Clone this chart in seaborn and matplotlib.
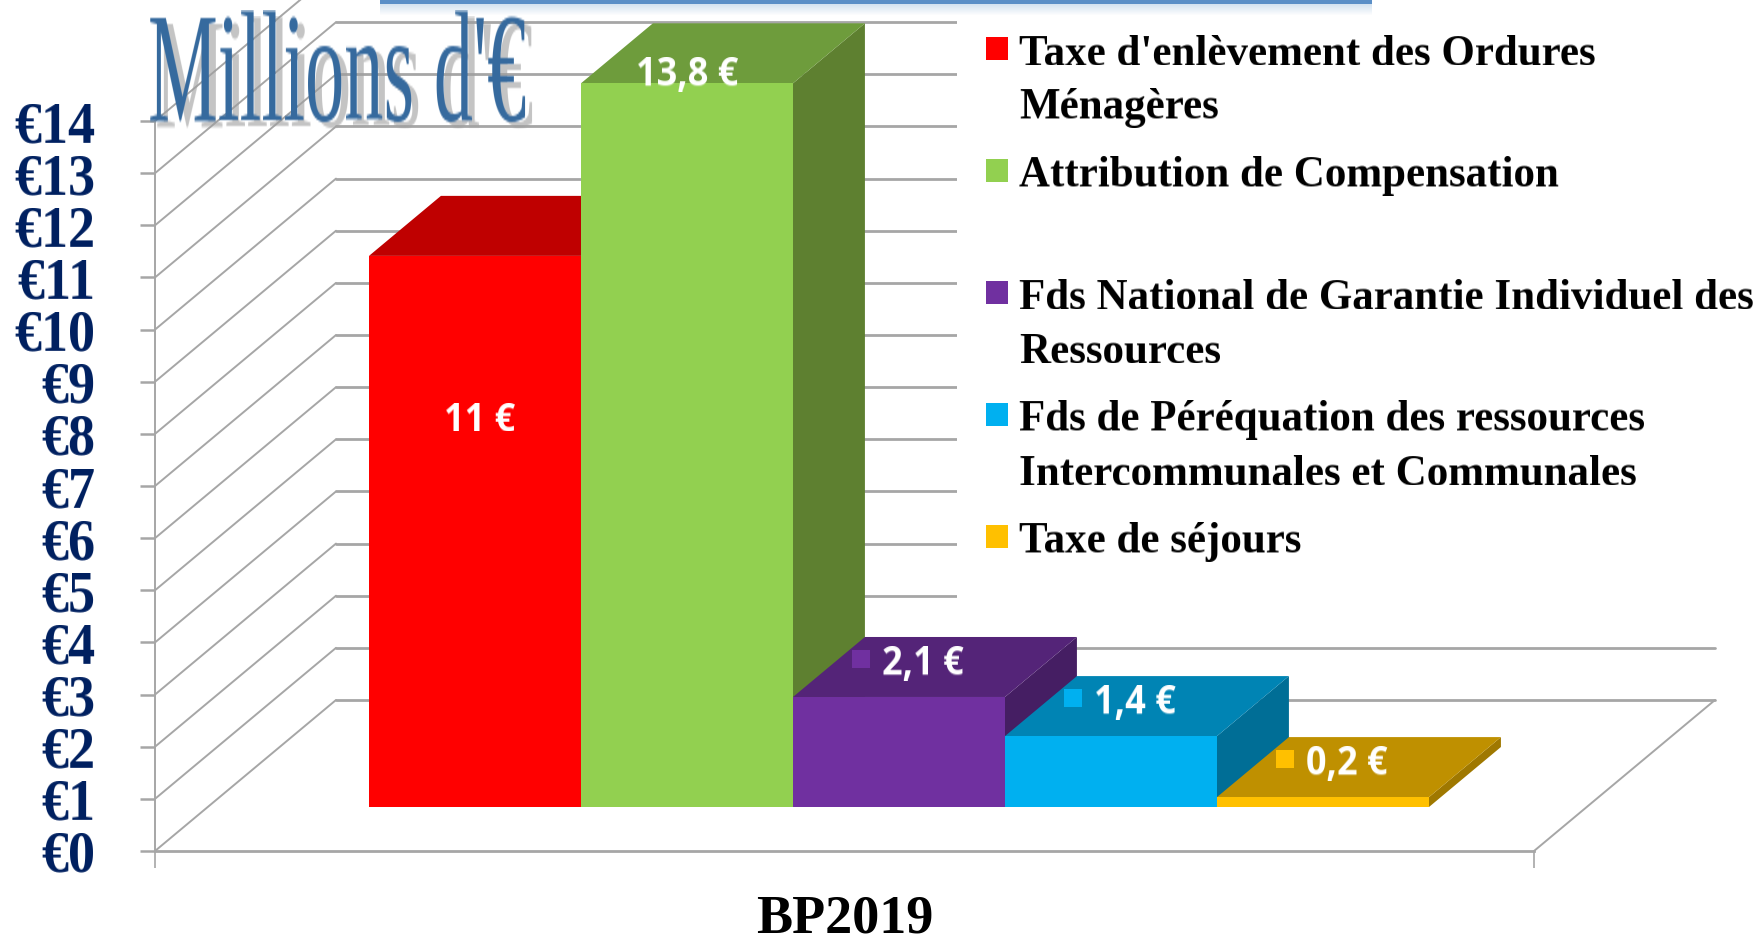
import numpy as np
import pandas as pd
import matplotlib
matplotlib.use("Agg")
import matplotlib.pyplot as plt
import seaborn as sns
from matplotlib.colors import to_rgb
from matplotlib.patches import Rectangle

# postes du budget (millions d'euros)
categories = ["Taxe d'enlèvement des Ordures\nMénagères",
              "Attribution de Compensation\n",
              "Fds National de Garantie Individuel des\nRessources",
              "Fds de Péréquation des ressources\nIntercommunales et Communales",
              "Taxe de séjours"]
values = [10.57, 13.88, 2.11, 1.36, 0.19]
value_labels = ["11 €", "13,8 €", "2,1 €", "1,4 €", "0,2 €"]
euro_ticks = list(range(15))
euro_labels = ["€" + str(t) for t in euro_ticks]
x_label = "BP2019"
title = "Millions d'€"

front_colors = ["#FF0000", "#92D050", "#7030A0", "#00B0F0", "#FFC000"]
top_colors = ["#BF0000", "#6E9C3C", "#542478", "#0084B4", "#BF9000"]
side_colors = ["#8F0000", "#5E8030", "#451E63", "#006E96", "#9F7800"]

W, H = 1762, 942
PX_CAT, PX_EUR = 212, 52.14
X0, Y0 = 475, 807  # pixel of category 0 centre and of the bar base
DEPTH_X, DEPTH_Y = 181 / PX_CAT, 151 / PX_EUR  # whole floor depth, in data units
BAR_DEPTH = 60 / 151
AXIS_LEFT, AXIS_RIGHT = (155 - X0) / PX_CAT, (1534 - X0) / PX_CAT
FLOOR_Y = (Y0 - 851) / PX_EUR
SERIF = "Liberation Serif"


def project(x, y, depth):
    # fake 3d: going back moves right and up
    return x + depth * DEPTH_X, y + depth * DEPTH_Y


def axes_px(x, y):
    return x / W, 1 - y / H


def stretch(factor, color, shadow=None):
    # agg filter which makes a text taller, the font stays the same width
    rgb = np.array(to_rgb(color))

    def apply(img, dpi):
        h, w = img.shape[:2]
        new_h = int(round(h * factor))
        rows = (np.arange(new_h) + 0.5) / factor - 0.5
        low = np.clip(np.floor(rows).astype(int), 0, h - 1)
        high = np.clip(low + 1, 0, h - 1)
        frac = np.clip(rows - low, 0, 1)[:, None]
        alpha = img[low, :, 3] * (1 - frac) + img[high, :, 3] * frac
        sx, sy = 0, 0
        if shadow is not None:
            sx, sy = shadow
        out = np.zeros((new_h + sy, w + sx, 4))
        out[:, :, :3] = rgb
        if shadow is not None:
            back = np.zeros(out.shape[:2])
            back[sy:, sx:] = alpha * 0.6
            front = np.zeros(out.shape[:2])
            front[:new_h, :w] = alpha
            total = front + back * (1 - front)
            grey = np.array([0.62, 0.62, 0.62])
            mix = (front[..., None] * rgb + (back * (1 - front))[..., None] * grey)
            out[:, :, :3] = mix / np.maximum(total, 1e-6)[..., None]
            out[:, :, 3] = total
        else:
            out[:, :, 3] = alpha
        return out, 0, -(new_h - h) // 2 - sy

    return apply


sns.set_style("white")
plt.rcParams["font.family"] = [SERIF, "DejaVu Sans"]

df = pd.DataFrame({"poste": categories, "montant": values})

fig = plt.figure(figsize=(W / 100, H / 100), dpi=100)
ax = fig.add_axes([0, 0, 1, 1])
ax.patch.set_alpha(0)

sns.barplot(data=df, x="poste", y="montant", hue="poste", palette=front_colors,
            width=1, saturation=1, linewidth=0, legend=False, ax=ax, zorder=3)

ax.set_xlim(-X0 / PX_CAT, (W - X0) / PX_CAT)
ax.set_ylim((Y0 - H) / PX_EUR, Y0 / PX_EUR)
ax.set_xlabel("")
ax.set_ylabel("")

# walls and floor
GRID = "#A6A6A6"
for t in euro_ticks:
    x_back, y_back = project(AXIS_LEFT, FLOOR_Y + t, 1)
    x_end, _ = project(AXIS_RIGHT, FLOOR_Y + t, 1)
    ax.plot([AXIS_LEFT, x_back], [FLOOR_Y + t, y_back], color=GRID, lw=1.4, zorder=1)
    ax.plot([x_back, x_end], [y_back, y_back], color=GRID, lw=2.0, zorder=1)
ax.plot(*zip((AXIS_RIGHT, FLOOR_Y), project(AXIS_RIGHT, FLOOR_Y, 1)),
        color=GRID, lw=1.4, zorder=1)

# white box of the legend hides the grid on the right
ax.add_patch(Rectangle(axes_px(957, 622), (W - 957) / W, 622 / H, transform=ax.transAxes,
                       facecolor="white", edgecolor="none", zorder=1.5))

# tops and sides of the bars, left to right so the next one lies over
for i, v in enumerate(values):
    left, right = i - 0.5, i + 0.5
    top = [project(left, v, 0), project(right, v, 0),
           project(right, v, BAR_DEPTH), project(left, v, BAR_DEPTH)]
    side = [project(right, 0, 0), project(right, v, 0),
            project(right, v, BAR_DEPTH), project(right, 0, BAR_DEPTH)]
    ax.fill(*zip(*side), color=side_colors[i], lw=0, zorder=2 + i * 0.1)
    ax.fill(*zip(*top), color=top_colors[i], lw=0, zorder=2.05 + i * 0.1)

# value labels, pixel offsets from the top of each bar
label_offsets = [(5, -164), (0, 7), (24, 32), (24, 32), (24, 32)]
for i, v in enumerate(values):
    dx, dy = label_offsets[i]
    lab = ax.annotate(value_labels[i], xy=(i, v), xytext=(dx, dy), textcoords="offset pixels",
                      ha="center", va="center", color="white", family="Open Sans",
                      fontweight="bold", fontsize=26, zorder=5)
    lab.set_agg_filter(stretch(1.05, "white"))
    if i >= 2:
        ax.scatter([i - 38 / PX_CAT], [v + 38 / PX_EUR], marker="s", s=180,
                   color=front_colors[i], linewidths=0, zorder=5)

# axes
for name in ["top", "right"]:
    ax.spines[name].set_visible(False)
ax.spines["left"].set_position(("data", AXIS_LEFT))
ax.spines["left"].set_bounds(FLOOR_Y, FLOOR_Y + euro_ticks[-1])
ax.spines["bottom"].set_position(("data", FLOOR_Y))
ax.spines["bottom"].set_bounds(AXIS_LEFT, AXIS_RIGHT)
for name in ["left", "bottom"]:
    ax.spines[name].set_color(GRID)
    ax.spines[name].set_zorder(1)
ax.spines["left"].set_linewidth(1.4)
ax.spines["bottom"].set_linewidth(2.0)

ax.set_yticks([FLOOR_Y + t for t in euro_ticks], labels=euro_labels)
ax.tick_params(axis="y", left=True, length=11, width=1.8, color=GRID, pad=32,
               labelsize=39, labelcolor="#002060")
ax.set_xticks([AXIS_LEFT, AXIS_RIGHT], labels=["", ""])
ax.tick_params(axis="x", bottom=True, length=12, width=1.2, color=GRID)
ax.set_xticks([(AXIS_LEFT + AXIS_RIGHT) / 2], labels=[x_label], minor=True)
ax.tick_params(axis="x", which="minor", bottom=True, length=0, pad=31.5, labelsize=39)
for tick in ax.get_yticklabels():
    tick.set_fontweight("bold")
    tick.set_agg_filter(stretch(1.08, "#002060"))
for tick in ax.get_xticklabels(minor=True):
    tick.set_fontweight("bold")
    tick.set_color("black")

# legend, first line of each entry carries the colour key
y = 49
for i, name in enumerate(categories):
    ax.add_patch(Rectangle(axes_px(986, y + 11), 22 / W, 23 / H, transform=ax.transAxes,
                           facecolor=front_colors[i], edgecolor="none", zorder=4))
    for line in name.split("\n"):
        if line:
            t = ax.text(*axes_px(1019, y + 5), line, transform=ax.transAxes, ha="left", va="center",
                        fontsize=31, fontweight="bold", color="black", zorder=4)
            t.set_agg_filter(stretch(1.05, "black"))
        y += 54
    y += 14

# title
t = ax.text(*axes_px(337, 74), title, transform=ax.transAxes, ha="center", va="center",
            fontsize=56.5, color="#366A9E", zorder=6)
t.set_agg_filter(stretch(2.0, "#366A9E", shadow=(7, 6)))

# bottom edge of a box cut by the top of the picture
for n in range(12):
    ax.add_patch(Rectangle(axes_px(380, 4 + n), 992 / W, 1 / H, transform=ax.transAxes,
                           facecolor="#5B93C8", alpha=0.28 * (1 - n / 12), edgecolor="none", zorder=6))
ax.add_patch(Rectangle(axes_px(380, 4), 992 / W, 4 / H, transform=ax.transAxes,
                       facecolor="#5B8FC7", edgecolor="none", zorder=6))

fig.savefig("out.png", dpi=100)
